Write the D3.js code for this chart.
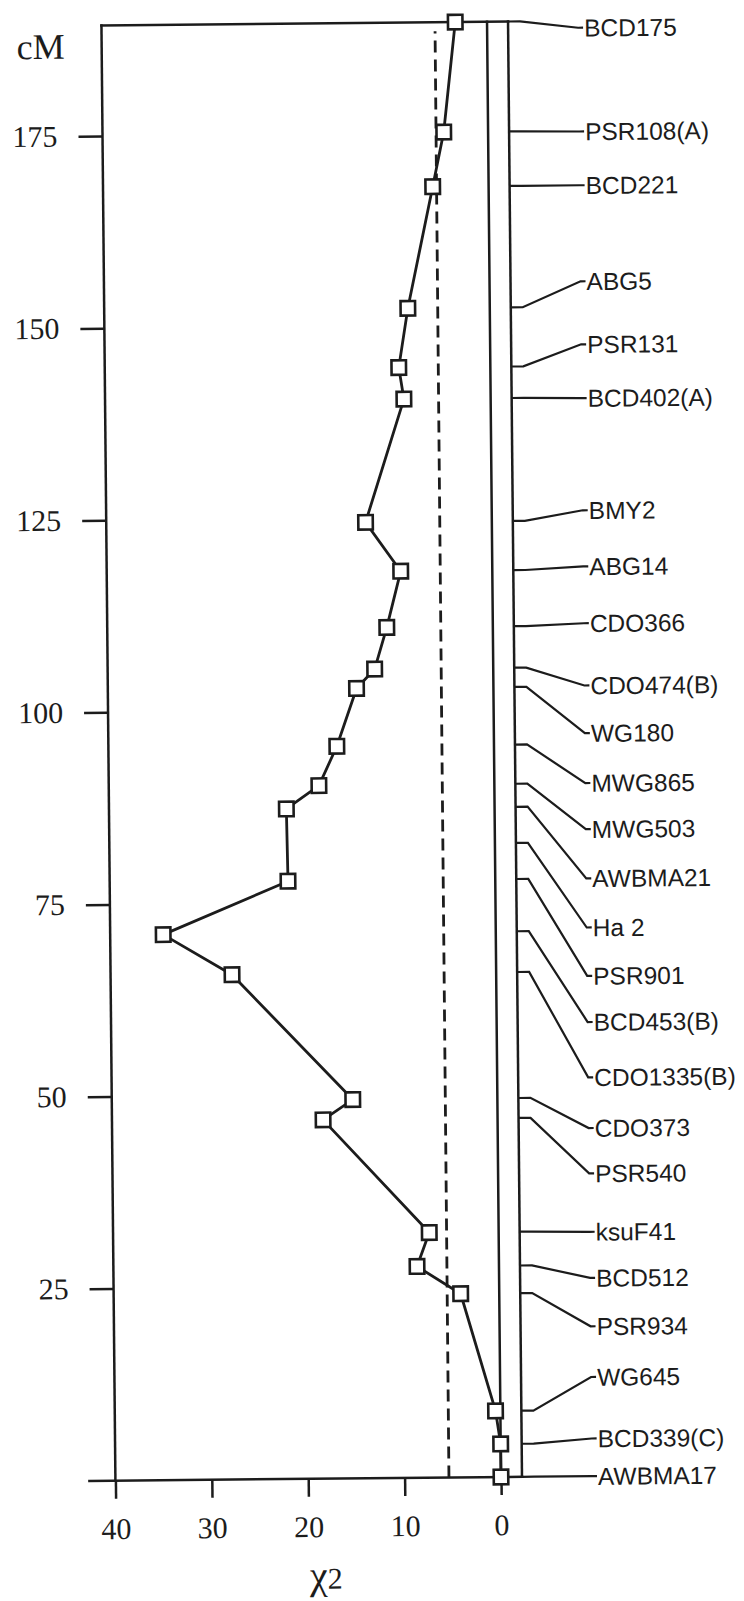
<!DOCTYPE html>
<html><head><meta charset="utf-8">
<script src="https://cdn.jsdelivr.net/npm/d3@7"></script>
<style>
body{margin:0;background:#fff}
svg{display:block}
</style>
</head><body>
<svg id="c" width="744" height="1601"></svg>
<script>
// ---- data ----
const markers = ["BCD175","PSR108(A)","BCD221","ABG5","PSR131","BCD402(A)","BMY2","ABG14","CDO366","CDO474(B)","WG180","MWG865","MWG503","AWBMA21","Ha 2","PSR901","BCD453(B)","CDO1335(B)","CDO373","PSR540","ksuF41","BCD512","PSR934","WG645","BCD339(C)","AWBMA17"];
const markerCM = [189.4,175.1,168.0,152.2,144.5,140.4,124.4,118.0,110.7,105.3,102.8,95.3,90.2,87.2,82.5,77.8,71.0,65.7,49.3,46.7,31.9,27.5,23.9,8.6,4.3,0];
const chiSquare = [3.3,4.6,5.8,8.5,9.5,9.0,13.1,9.5,11.0,12.3,14.2,16.3,18.2,21.6,null,21.5,34.5,27.4,15.0,18.1,7.2,8.5,4.0,0.5,0,0];
// where each marker name is written along the map (cM units)
const labelCM = [188.5,175.0,168.0,155.5,147.3,140.3,125.7,118.4,111.0,102.9,96.7,90.2,84.2,77.8,71.4,65.1,59.1,51.9,45.3,39.4,31.8,25.8,19.5,12.9,4.9,0];
const yTicks = [25,50,75,100,125,150,175];
const xTicks = [40,30,20,10,0];
const threshold = 5.4;

// ---- layout ----
const ink = "#1c1c1c";
const X0 = 501, Y0 = 1477;
const x = d3.scaleLinear().domain([0, 40]).range([X0, X0 - 385.6]);
const yTop = markerCM[0];
const y = d3.scaleLinear().domain([0, yTop]).range([Y0, Y0 - yTop * 7.684]);

const svg = d3.select("#c");
const g = svg.append("g").attr("transform", `rotate(-0.55,${X0},${Y0})`);

const xL = x(40), xC = x(0), xR = x(0) + 21;

function seg(x1, y1, x2, y2, w) {
  return g.append("line").attr("x1", x1).attr("y1", y1).attr("x2", x2).attr("y2", y2)
    .attr("stroke", ink).attr("stroke-width", w || 2.5).attr("stroke-linecap", "square");
}

// y axis (cM)
const yAxis = d3.axisLeft(y).tickValues(yTicks).tickSize(24).tickPadding(21).tickFormat(d3.format("d"));
const ya = g.append("g").attr("transform", `translate(${xL},0)`).call(yAxis);
ya.select(".domain").remove();
ya.selectAll(".tick line").attr("stroke", ink).attr("stroke-width", 2.5);
ya.selectAll(".tick text").attr("fill", ink).style("font-family", "'Liberation Serif','Times New Roman',serif").style("font-size", "30px");

// x axis (chi-square)
const xAxis = d3.axisBottom(x).tickValues(xTicks).tickSize(18).tickPadding(19).tickFormat(d3.format("d"));
const xa = g.append("g").attr("transform", `translate(0,${Y0})`).call(xAxis);
xa.select(".domain").remove();
xa.selectAll(".tick line").attr("stroke", ink).attr("stroke-width", 2.5);
xa.selectAll(".tick text").attr("fill", ink).style("font-family", "'Liberation Serif','Times New Roman',serif").style("font-size", "30px");

// frame lines
seg(xL, y(yTop), xR, y(yTop));          // top
seg(xL, y(yTop), xL, y(0));             // left axis
seg(xL - 26, y(0), xR, y(0));           // bottom axis

// chromosome
seg(xC, y(yTop), xC, y(0));
seg(xR, y(yTop), xR, y(0));

// threshold (dashed)
g.append("line").attr("x1", x(threshold)).attr("x2", x(threshold))
  .attr("y1", y(0)).attr("y2", y(yTop) + 9)
  .attr("stroke", ink).attr("stroke-width", 2.8).attr("stroke-dasharray", "12,7");

// chi-square profile
const pts = markers.map((m, i) => ({ m, cm: markerCM[i], v: chiSquare[i] })).filter(d => d.v !== null);
g.append("path").datum(pts)
  .attr("d", d3.line().x(d => x(d.v)).y(d => y(d.cm)))
  .attr("fill", "none").attr("stroke", ink).attr("stroke-width", 2.8).attr("stroke-linejoin", "round");
const sq = 14.5;
g.selectAll("rect.pt").data(pts).join("rect").attr("class", "pt")
  .attr("x", d => x(d.v) - sq / 2).attr("y", d => y(d.cm) - sq / 2)
  .attr("width", sq).attr("height", sq)
  .attr("fill", "#fff").attr("stroke", ink).attr("stroke-width", 2.6);

// marker leaders and names
const lab = markers.map((m, i) => ({ m, cm: markerCM[i], lc: labelCM[i] }));
g.selectAll("path.lead").data(lab).join("path").attr("class", "lead")
  .attr("d", d => d3.line()([[xR, y(d.cm)], [xR + 12, y(d.cm)], [xR + 70, y(d.lc)], [xR + 75, y(d.lc)]]))
  .attr("fill", "none").attr("stroke", ink).attr("stroke-width", 2.2);
g.selectAll("text.mk").data(lab).join("text").attr("class", "mk")
  .attr("x", xR + 76).attr("y", d => y(d.lc)).attr("dy", "0.36em")
  .attr("fill", ink)
  .style("font-family", "'Liberation Sans',Arial,Helvetica,sans-serif").style("font-size", "24.5px")
  .text(d => d.m);

// axis titles
g.append("text").attr("x", xL - 61).attr("y", y(yTop) + 33).attr("text-anchor", "middle")
  .attr("fill", ink).style("font-family", "'Liberation Serif','Times New Roman',serif").style("font-size", "36px")
  .text("cM");
const t = g.append("text").attr("x", x(20) + 17).attr("y", Y0 + 110).attr("text-anchor", "middle")
  .attr("fill", ink).style("font-family", "'Liberation Serif','Times New Roman',serif");
t.append("tspan").style("font-size", "40px").text("χ");
t.append("tspan").style("font-size", "30px").text("2");
</script>
</body></html>
